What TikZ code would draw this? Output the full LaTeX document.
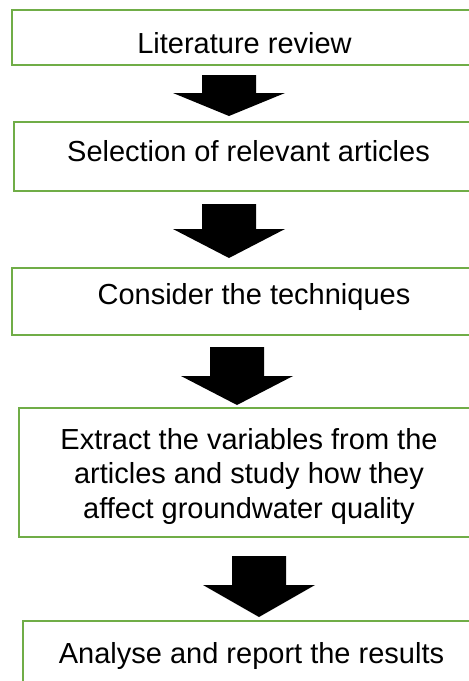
\documentclass[tikz,border=0pt]{standalone}
\usepackage{fontspec}
\setmainfont{Liberation Sans}
\usetikzlibrary{positioning}

\definecolor{boxgreen}{RGB}{112,173,71}
\tikzset{every picture/.style={line width=0.75pt}}
\tikzset{
  stepbox/.style={draw=boxgreen, line width=2.5pt, rectangle, inner sep=0pt},
  steptext/.style={anchor=north, inner sep=0pt, align=center, font=\fontsize{29}{34.5}\selectfont},
}
% block arrow: centre x, top, neck, tip
\newcommand{\blockarrow}[4]{%
  \fill[black] (#1-27,#2) -- (#1+27,#2) -- (#1+27,#3) -- (#1+56,#3) -- (#1,#4) -- (#1-56,#3) -- (#1-27,#3) -- cycle;}

\begin{document}
\begin{tikzpicture}[x=1pt,y=1pt,yscale=-1,xscale=1]
\useasboundingbox (0,0) rectangle (469,681);
\clip (0,0) rectangle (469,681);

%Shape: Rectangle [id:b1]
\node[stepbox, minimum width=472pt, minimum height=55pt] (b1) at (248,37.5) {};
%Shape: Rectangle [id:b2]
\node[stepbox, minimum width=470pt, minimum height=69pt] (b2) at (249,156.5) {};
%Shape: Rectangle [id:b3]
\node[stepbox, minimum width=472pt, minimum height=67pt] (b3) at (248,301.5) {};
%Shape: Rectangle [id:b4]
\node[stepbox, minimum width=465pt, minimum height=129pt] (b4) at (251.5,472.5) {};
%Shape: Rectangle [id:b5]
\node[stepbox, minimum width=461pt, minimum height=69pt] (b5) at (253.5,655.5) {};

%Block Arrows
\blockarrow{229}{75}{93}{116}
\blockarrow{229}{204}{229}{258}
\blockarrow{237}{347}{376}{405}
\blockarrow{259}{556}{585}{617}

% Text Node
\node[steptext] (t1) at (244.5,32) {Literature review};
% Text Node
\node[steptext] (t2) at (248.5,140) {Selection of relevant articles};
% Text Node
\node[steptext] (t3) at (254,283) {Consider the techniques};
% Text Node
\begin{scope}
\clip (0,0) rectangle (469,524);
\node[steptext] (t4) at (249,428) {Extract the variables from the\\articles and study how they\\affect groundwater quality};
\end{scope}
% Text Node
\node[steptext] (t5) at (251.5,642) {Analyse and report the results};

\end{tikzpicture}
\end{document}
